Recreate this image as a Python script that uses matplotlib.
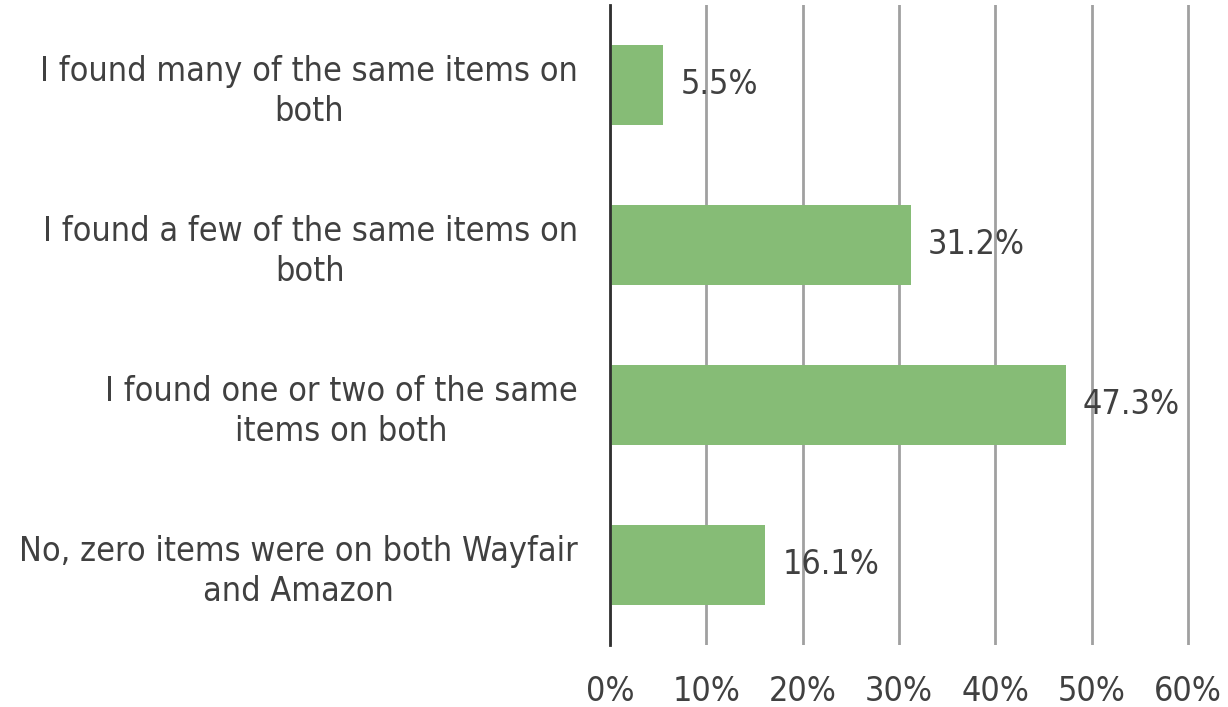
import matplotlib.pyplot as plt
from matplotlib.ticker import PercentFormatter
from matplotlib.transforms import ScaledTranslation

# survey answers, top to bottom
answers = ["I found many of the same items on\nboth",
           "I found a few of the same items on\nboth",
           "I found one or two of the same\nitems on both",
           "No, zero items were on both Wayfair\nand Amazon"]
shares = [5.5, 31.2, 47.3, 16.1]
xticks = [0, 10, 20, 30, 40, 50, 60]

text_col = "#404040"
fs = 24.5
plt.rcParams["font.family"] = ["DejaVu Sans"]
plt.rcParams["font.stretch"] = "condensed"

fig = plt.figure(figsize=(12.28, 7.07), dpi=100)
ax = fig.add_axes([610 / 1228, 0.088, 580 / 1228, 0.905])

pos = list(range(len(answers)))
ax.barh(pos, shares, height=0.5, color="#86bc76", zorder=2)
for p, v in zip(pos, shares):
    ax.text(v + 1.8, p, f"{v}%", va="center", ha="left", fontsize=fs, color=text_col, zorder=3)

ax.set_ylim(3.5, -0.5)
ax.set_xlim(0, 60.2)
ax.set_yticks(pos)
ax.set_yticklabels(answers, ha="right", multialignment="center", linespacing=1.25)
# nudge the two-line labels up a little so they sit centred on the bars
shift = ScaledTranslation(0, 0.05, fig.dpi_scale_trans)
for lab in ax.get_yticklabels():
    lab.set_transform(lab.get_transform() + shift)
ax.set_xticks(xticks)
ax.xaxis.set_major_formatter(PercentFormatter(decimals=0))
ax.tick_params(axis="y", length=0, pad=23, labelsize=fs, labelcolor=text_col)
ax.tick_params(axis="x", length=0, pad=22, labelsize=fs, labelcolor=text_col)

ax.grid(axis="x", color="#a0a0a0", linewidth=2, zorder=1)
for s in ["top", "right", "bottom"]:
    ax.spines[s].set_visible(False)
ax.spines["left"].set_color("#303030")
ax.spines["left"].set_linewidth(2)
ax.spines["left"].set_zorder(4)

fig.savefig("out.png", dpi=100)
